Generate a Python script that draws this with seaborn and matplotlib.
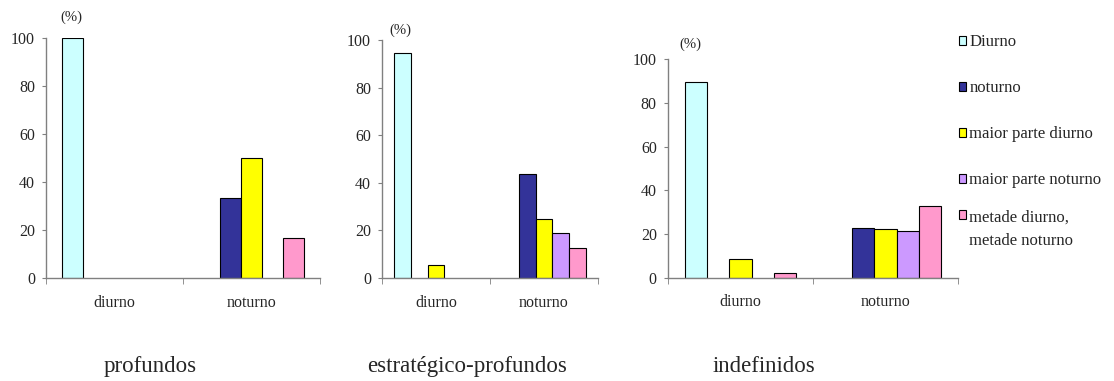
import numpy as np
import pandas as pd
import matplotlib
matplotlib.use("Agg")
import matplotlib.pyplot as plt
from matplotlib.patches import Patch
import seaborn as sns

# data (percentages)
periods = ["diurno", "noturno"]
series = ["Diurno", "noturno", "maior parte diurno", "maior parte noturno",
          "metade diurno,\nmetade noturno"]
colors = ["#CCFFFF", "#333399", "#FFFF00", "#CC99FF", "#FF99CC"]

panel_titles = ["profundos", "estratégico-profundos", "indefinidos"]

# rows = period (diurno, noturno), cols = series
profundos = [[100.0, 0, 0, 0, 0],
             [0, 33.3, 50.0, 0, 16.7]]
estrategico = [[94.6, 0, 5.4, 0, 0],
               [0, 43.8, 25.0, 18.8, 12.5]]
indefinidos = [[89.5, 0, 8.4, 0, 2.1],
               [0, 22.6, 22.4, 21.2, 32.8]]
panels = [profundos, estrategico, indefinidos]

sns.set_style("white")
plt.rcParams["font.family"] = ["Liberation Serif", "DejaVu Serif"]

fig = plt.figure(figsize=(11.14, 3.81), dpi=100)

# axes rectangles (figure fraction) and position of the "(%)" label
rects = [[0.0413, 0.2703, 0.2460, 0.6300],
         [0.3429, 0.2703, 0.1939, 0.6247],
         [0.5996, 0.2711, 0.2604, 0.5733]]
pct_pos = [(0.091, 1.088), (0.083, 1.042), (0.076, 1.069)]
title_x = [0.1347, 0.4195, 0.6860]

for k, vals in enumerate(panels):
    ax = fig.add_axes(rects[k])
    rows = []
    for i, p in enumerate(periods):
        for j, s in enumerate(series):
            rows.append({"period": p, "serie": s, "value": vals[i][j]})
    df = pd.DataFrame(rows)
    df = df[df["value"] > 0]
    sns.barplot(data=df, x="period", y="value", hue="serie",
                order=periods, hue_order=series, palette=colors,
                saturation=1, width=0.77, edgecolor="black", linewidth=0.8,
                legend=False, ax=ax, errorbar=None)
    ax.set_xlim(-0.5, 1.5)
    ax.set_ylim(0, 100)
    ax.set_yticks([0, 20, 40, 60, 80, 100])
    ax.set_xlabel("")
    ax.set_ylabel("")
    for side in ["top", "right"]:
        ax.spines[side].set_visible(False)
    for side in ["left", "bottom"]:
        ax.spines[side].set_color("#808080")
        ax.spines[side].set_linewidth(1.0)
    ax.set_xticks([-0.5, 0.5, 1.5], minor=True)
    ax.tick_params(axis="x", which="major", length=0, pad=12, labelsize=11.5)
    ax.tick_params(axis="x", which="minor", length=4, color="#808080",
                   direction="out", bottom=True)
    ax.tick_params(axis="y", length=3, color="#808080", direction="out",
                   left=True, pad=5, labelsize=11.5)
    ax.text(pct_pos[k][0], pct_pos[k][1], "(%)", transform=ax.transAxes,
            ha="center", va="center", fontsize=10.5)
    fig.text(title_x[k], 0.037, panel_titles[k], ha="center", va="center",
             fontsize=16.5)

handles = [Patch(facecolor=c, edgecolor="black", linewidth=0.8) for c in colors]
leg_kw = dict(loc="upper left", frameon=False, fontsize=12, handlelength=0.42,
              handleheight=0.42, handletextpad=0.22, borderpad=0, borderaxespad=0)
# first four entries
fig.legend(handles[:4], series[:4], bbox_to_anchor=(0.8605, 0.91),
           labelspacing=1.8, **leg_kw)
# two-line entry, square next to its first line
leg2 = fig.legend(handles[4:], series[4:], bbox_to_anchor=(0.8605, 0.449),
                  **leg_kw)
leg2.get_texts()[0].set_linespacing(1.55)
leg2._legend_handle_box.get_children()[0].get_children()[0].align = "top"

fig.savefig("out.png", dpi=100)
